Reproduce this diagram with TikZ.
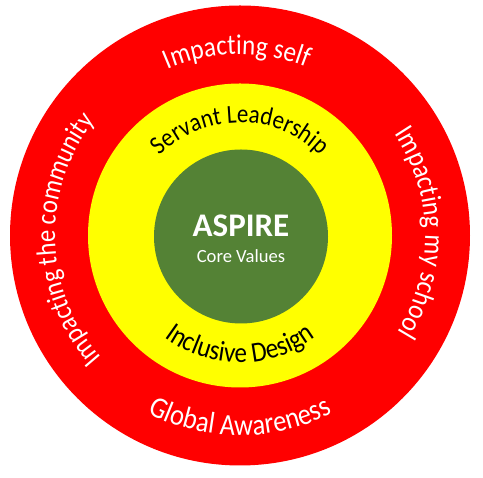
\documentclass[tikz,border=0pt]{standalone}
\usepackage{fontspec}
\setmainfont{Carlito}
\newfontfamily\ringfam[FakeStretch=0.88]{Carlito}
\usetikzlibrary{decorations.text,calc}
\definecolor{ringred}{RGB}{255,0,0}
\definecolor{ringyellow}{RGB}{255,255,0}
\definecolor{coregreen}{RGB}{84,130,53}
\newcommand{\outerfont}{\ringfam\fontsize{28.5}{32}\selectfont}
\newcommand{\communityfont}{\ringfam\fontsize{28}{32}\selectfont}
\newcommand{\globalfont}{\ringfam\fontsize{30}{34}\selectfont}
\newcommand{\servantfont}{\ringfam\fontsize{26}{30}\selectfont}
\newcommand{\inclusivefont}{\ringfam\fontsize{28.5}{32}\selectfont}
\tikzset{
  outerlabel/.style={decorate, decoration={text along path, text={#1}, text align=center, text color=white}},
  innerlabel/.style={decorate, decoration={text along path, text={#1}, text align=center, text color=black}},
}
\begin{document}
\begin{tikzpicture}[x=1pt,y=1pt]
\useasboundingbox (0,0) rectangle (483,478);
\coordinate (c) at (240,242.5);
\fill[ringred] (c) circle (230);
\fill[ringyellow] (c) circle (152);
\node[circle, fill=coregreen, minimum size=174, inner sep=0] (core) at (241,241.5) {};
\node[text=white, font=\fontsize{33}{36}\selectfont\bfseries, anchor=base] (aspire) at (241,241) {ASPIRE};
\node[text=white, font=\fontsize{18.6}{22}\selectfont, anchor=base] (values) at (241,215) {Core Values};
% outer ring labels
\path[outerlabel={|\outerfont|Impacting self}] ($(c)+(181:181)$) arc[start angle=181, end angle=1, radius=181];
\path[outerlabel={|\outerfont|Impacting my school}] ($(c)+(91:185)$) arc[start angle=91, end angle=-89, radius=185];
\path[outerlabel={|\communityfont|Impacting the community}] ($(c)+(271.5:185)$) arc[start angle=271.5, end angle=91.5, radius=185];
\path[outerlabel={|\globalfont|Global Awareness}] ($(c)+(180:200)$) arc[start angle=180, end angle=360, radius=200];
% inner ring labels
\path[innerlabel={|\servantfont|Servant Leadership}] ($(c)+(180:113)$) arc[start angle=180, end angle=0, radius=113];
\path[innerlabel={|\inclusivefont|Inclusive Design}] ($(c)+(180:127)$) arc[start angle=180, end angle=360, radius=127];
\end{tikzpicture}
\end{document}
